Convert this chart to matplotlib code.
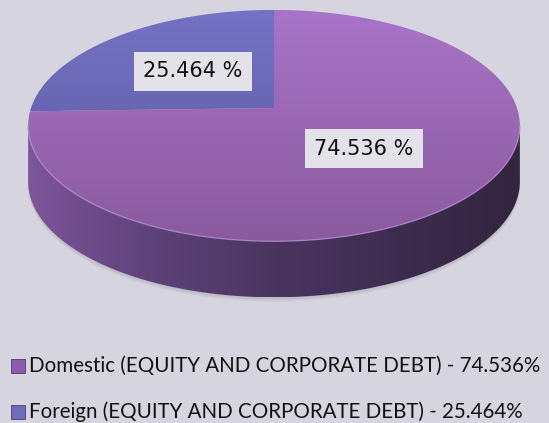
import numpy as np
import matplotlib.pyplot as plt
from matplotlib.patches import Polygon, Rectangle
from matplotlib.colors import to_rgb

# data
labels = ['Domestic (EQUITY AND CORPORATE DEBT)', 'Foreign (EQUITY AND CORPORATE DEBT)']
values = [74.536, 25.464]
top_colors = [('#a874c8', '#8a5a9e'), ('#7572c6', '#58579a')]
legend_colors = ['#8c5cac', '#6f6dbb']

bg = '#d6d5df'

# pie geometry (pixel coords, y down) - perspective-ish disk
CX, CY = 274, 108
A, B, K = 243, 113, 0.152
H = 56


def proj(phi, r=1.0, dy=0.0):
    u = r * np.cos(phi)
    v = r * np.sin(phi)
    d = 1 + K * v
    return CX + A * u / d, CY - B * v / d + dy


def grad_fill(ax, patch, stops, vertical=True, ext=None):
    # fill a patch with a linear gradient clipped to it
    n = 256
    t = np.linspace(0, 1, n)
    pos = np.linspace(0, 1, len(stops))
    rgb = np.array([to_rgb(c) for c in stops])
    g = np.stack([np.interp(t, pos, rgb[:, i]) for i in range(3)], axis=-1)
    img = g[:, None, :] if vertical else g[None, :, :]
    x0, x1, y0, y1 = ext
    im = ax.imshow(img, extent=(x0, x1, y1, y0), origin='upper', aspect='auto',
                   interpolation='bilinear', zorder=patch.get_zorder())
    im.set_clip_path(patch)


fig = plt.figure(figsize=(5.49, 4.23), dpi=100)
fig.patch.set_facecolor(bg)
ax = fig.add_axes([0, 0, 1, 1])
ax.set_xlim(0, 549)
ax.set_ylim(423, 0)
ax.axis('off')

# soft shadow under the pie
for i in range(6):
    sx, sy = proj(np.linspace(0, 2 * np.pi, 200), dy=H + 1 + i * 0.7)
    ax.fill(sx, sy, color='#8a8a95', alpha=0.06, lw=0, zorder=1)

# side of the cylinder (front half)
phis = np.linspace(np.pi + np.arcsin(K), 2 * np.pi - np.arcsin(K), 300)
tx, ty = proj(phis)
bx, by = proj(phis[::-1], dy=H)
side = Polygon(np.column_stack([np.r_[tx, bx], np.r_[ty, by]]), closed=True,
               fc='none', ec='none', zorder=2)
ax.add_patch(side)
grad_fill(ax, side, ['#7d559a', '#5e4279', '#4a3560', '#3e2c50', '#33253e'],
          vertical=False, ext=(tx.min(), tx.max(), ty.min(), by.max()))

# top face slices: foreign starts at 12 o'clock going counterclockwise
fractions = np.array(values) / sum(values)
start = np.pi / 2
order = [1, 0]
for idx in order:
    end = start + 2 * np.pi * fractions[idx]
    ang = np.linspace(start, end, 300)
    px, py = proj(ang)
    verts = np.column_stack([np.r_[CX, px], np.r_[CY, py]])
    poly = Polygon(verts, closed=True, fc='none', ec='none', zorder=3)
    ax.add_patch(poly)
    grad_fill(ax, poly, list(top_colors[idx]), vertical=True,
              ext=(28, 521, 10, 242))
    mid = (start + end) / 2
    lx, ly = proj(mid, r=0.49)
    ax.text(lx, ly, f'{values[idx]:.3f} %', ha='center', va='center',
            fontsize=15, family='DejaVu Sans', color='#111111', zorder=5,
            bbox=dict(boxstyle='square,pad=0.45', fc='#e2e2e8', ec='none'))
    start = end

# light rim on the front edge of the top face
ax.plot(tx, ty, color='#b58fd6', lw=1.0, alpha=0.7, zorder=4)

# legend
ly0 = [366, 412]
for i, lab in enumerate(labels):
    ax.add_patch(Rectangle((10.5, ly0[i] - 7), 14, 14, fc=legend_colors[i],
                           ec='#4a3d6a', lw=0.6, zorder=5))
    ax.text(29, ly0[i], f'{lab} - {values[i]:.3f}%', ha='left', va='center',
            fontsize=14.8, family='Lato', color='#111111', zorder=5)

fig.savefig('out.png', dpi=100, facecolor=bg)
